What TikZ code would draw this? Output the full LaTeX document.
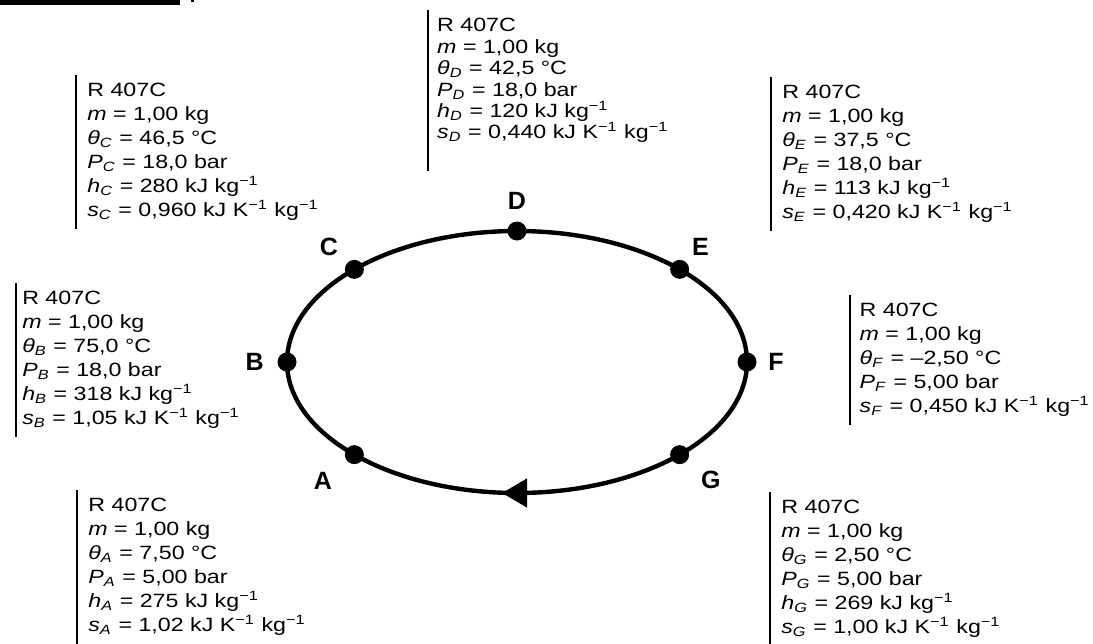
\documentclass[tikz,border=0pt]{standalone}
\usepackage{fontspec}
\setmainfont{Liberation Sans}
\usetikzlibrary{positioning,calc,arrows.meta}

\newcommand{\sym}[2]{\textit{#1}\textsubscript{\textit{#2}}}
\newcommand{\inv}{\textsuperscript{−1}}

\tikzset{
  info/.style={anchor=north west, align=left, inner xsep=4.5pt, inner ysep=4pt,
    font=\fontsize{9.6}{12}\selectfont, xscale=1.21},
  bar/.style={line width=1.2pt},
  pt/.style={circle, fill, inner sep=0pt, minimum size=9.5pt},
  lbl/.style={font=\fontsize{12.5}{14}\selectfont\bfseries, inner sep=0pt},
  cycleline/.style={line width=2.2pt}
}

\begin{document}
\begin{tikzpicture}[x=0.5pt, y=-0.5pt]
  \useasboundingbox (0,0) rectangle (1093,643);

  % Cut-off underline of the heading
  \fill (0,0) rectangle (180,5);
  \fill (191,0) rectangle (194,2);

  % Cycle
  \coordinate (ctr) at (517,362);
  \coordinate (bot) at ($(ctr)+(90:230 and 131)$);
  \draw[cycleline] (ctr) ellipse [x radius=230, y radius=131];
  \foreach \n/\a in {A/135, B/180, C/225, D/270, E/315, F/0, G/45}
    \node[pt] (\n) at ($(ctr)+(\a:230 and 131)$) {};
  \draw[cycleline, -{Triangle[length=12.5pt, width=14pt]}]
    ([xshift=6pt]bot) -- ([xshift=-7.5pt]bot);

  % State labels
  \node[lbl, below left=5pt and 7.5pt of A] (lA) {A};
  \node[lbl, left=6.5pt of B] (lB) {B};
  \node[lbl, above left=3pt and 4.5pt of C] (lC) {C};
  \node[lbl, above=5.5pt of D] (lD) {D};
  \node[lbl, above right=3.4pt and 2.6pt of E] (lE) {E};
  \node[lbl, right=5.5pt of F] (lF) {F};
  \node[lbl, below right=4.5pt and 7pt of G] (lG) {G};

  % State data
  \node[info] (bC) at (76,75) {R 407C\\ \textit{m} = 1,00 kg\\ \sym{θ}{C} = 46,5 °C\\
    \sym{P}{C} = 18,0 bar\\ \sym{h}{C} = 280 kJ kg\inv\\ \sym{s}{C} = 0,960 kJ K\inv{} kg\inv};
  \node[info, inner xsep=2.4pt] (bB) at (16,283) {R 407C\\ \textit{m} = 1,00 kg\\ \sym{θ}{B} = 75,0 °C\\
    \sym{P}{B} = 18,0 bar\\ \sym{h}{B} = 318 kJ kg\inv\\ \sym{s}{B} = 1,05 kJ K\inv{} kg\inv};
  \node[info, inner xsep=3.6pt, font=\fontsize{9.6}{10.7}\selectfont] (bD) at (428,10) {R 407C\\ \textit{m} = 1,00 kg\\ \sym{θ}{D} = 42,5 °C\\
    \sym{P}{D} = 18,0 bar\\ \sym{h}{D} = 120 kJ kg\inv\\ \sym{s}{D} = 0,440 kJ K\inv{} kg\inv};
  \node[info] (bE) at (771,77) {R 407C\\ \textit{m} = 1,00 kg\\ \sym{θ}{E} = 37,5 °C\\
    \sym{P}{E} = 18,0 bar\\ \sym{h}{E} = 113 kJ kg\inv\\ \sym{s}{E} = 0,420 kJ K\inv{} kg\inv};
  \node[info, inner xsep=3.8pt] (bF) at (850,295) {R 407C\\ \textit{m} = 1,00 kg\\ \sym{θ}{F} = –2,50 °C\\
    \sym{P}{F} = 5,00 bar\\ \sym{s}{F} = 0,450 kJ K\inv{} kg\inv};
  \node[info] (bA) at (77,490) {R 407C\\ \textit{m} = 1,00 kg\\ \sym{θ}{A} = 7,50 °C\\
    \sym{P}{A} = 5,00 bar\\ \sym{h}{A} = 275 kJ kg\inv\\ \sym{s}{A} = 1,02 kJ K\inv{} kg\inv};
  \node[info] (bG) at (770,492) {R 407C\\ \textit{m} = 1,00 kg\\ \sym{θ}{G} = 2,50 °C\\
    \sym{P}{G} = 5,00 bar\\ \sym{h}{G} = 269 kJ kg\inv\\ \sym{s}{G} = 1,00 kJ K\inv{} kg\inv};

  % Side bars
  \foreach \b in {bA, bB, bC, bE, bF, bG}
    \draw[bar] (\b.north west) -- (\b.south west);
  \draw[bar] (bD.north west) -- ([yshift=-10pt]bD.south west);
\end{tikzpicture}
\end{document}
